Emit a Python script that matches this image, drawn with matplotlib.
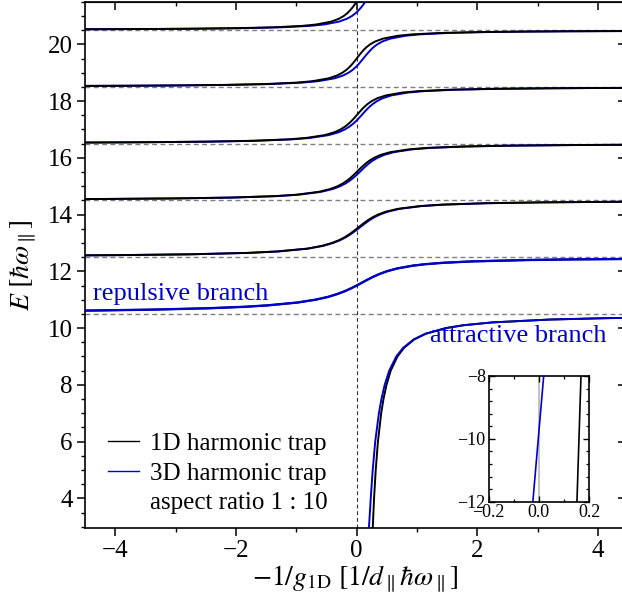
import matplotlib
matplotlib.use('Agg')
import matplotlib.pyplot as plt
from matplotlib.ticker import MultipleLocator
from matplotlib.lines import Line2D

plt.rcParams['font.family'] = ['Liberation Serif', 'DejaVu Serif']
plt.rcParams['mathtext.fontset'] = 'stix'

# ---------------- data ----------------
LEVELS = [10.5, 12.5, 14.5, 16.5, 18.5, 20.5]

# attractive branch
ATT_E = [-16, -12, -8, -3, 0, 2, 3, 4, 5, 6, 7, 7.5, 8, 8.5, 9.0, 9.3, 9.6, 9.8,
         10.0, 10.1, 10.2, 10.3, 10.35, 10.4]
ATT_X_1D = [0.139, 0.151, 0.167, 0.196, 0.2235, 0.250, 0.267, 0.288, 0.3155, 0.352,
            0.406, 0.444, 0.494, 0.564, 0.676, 0.783, 0.954, 1.144, 1.479, 1.768,
            2.246, 3.19, 4.14, 6.02]
ATT_X_3D = [-0.051, -0.024, 0.019, 0.086, 0.1385, 0.18, 0.204, 0.233, 0.2655, 0.307,
            0.368, 0.410, 0.464, 0.539, 0.656, 0.768, 0.944, 1.139, 1.479, 1.768,
            2.246, 3.19, 4.14, 6.02]

# repulsive branch
REP_E = [10.60, 10.62, 10.65, 10.70, 10.75, 10.80, 10.90, 11.00, 11.10, 11.20, 11.30,
         11.40, 11.50, 11.60, 11.70, 11.80, 11.90, 12.00, 12.10, 12.20, 12.25, 12.30,
         12.35, 12.40, 12.42, 12.44]
REP_X_1D = [-5.28, -4.34, -3.38, -2.43, -1.85, -1.47, -0.98, -0.68, -0.47, -0.32, -0.196,
            -0.093, 0.0, 0.087, 0.173, 0.265, 0.368, 0.494, 0.664, 0.926, 1.127, 1.421,
            1.904, 2.856, 3.566, 4.75]
REP_X_3D = [-5.29, -4.35, -3.39, -2.44, -1.86, -1.48, -0.985, -0.684, -0.473, -0.322,
            -0.197, -0.094, 0.0, 0.088, 0.175, 0.268, 0.373, 0.500, 0.671, 0.934, 1.136,
            1.431, 1.914, 2.866, 3.577, 4.76]

# excited branches
B1_E = [12.55, 12.57, 12.60, 12.65, 12.70, 12.80, 12.90, 13.00, 13.10, 13.20, 13.30,
        13.40, 13.50, 13.60, 13.70, 13.80, 13.90, 14.00, 14.10, 14.20, 14.30, 14.35,
        14.40, 14.43, 14.45, 14.46]
B1_X_1D = [-5.58, -3.97, -2.75, -1.80, -1.32, -0.82, -0.57, -0.41, -0.29, -0.20, -0.126,
           -0.061, 0.0, 0.059, 0.119, 0.184, 0.259, 0.352, 0.479, 0.675, 1.046, 1.408,
           2.122, 3.04, 4.25, 5.31]
B1_X_3D = [-5.57, -3.96, -2.74, -1.79, -1.30, -0.80, -0.55, -0.39, -0.27, -0.18, -0.104,
           -0.038, 0.025, 0.085, 0.146, 0.212, 0.288, 0.383, 0.511, 0.709, 1.08, 1.44,
           2.16, 3.08, 4.29, 5.35]

B2_E = [14.54, 14.55, 14.57, 14.60, 14.65, 14.70, 14.80, 14.90, 15.00, 15.10, 15.20,
        15.30, 15.40, 15.50, 15.60, 15.70, 15.80, 15.90, 16.00, 16.10, 16.20, 16.30,
        16.35, 16.40, 16.43, 16.45, 16.46, 16.465]
B2_X_1D = [-5.26, -4.20, -3.00, -2.08, -1.36, -1.00, -0.632, -0.439, -0.316, -0.227,
           -0.158, -0.100, -0.048, 0.0, 0.047, 0.096, 0.149, 0.211, 0.288, 0.393, 0.557,
           0.866, 1.167, 1.763, 2.53, 3.54, 4.41, 5.05]
B2_X_3D = [-5.22, -4.16, -2.96, -2.04, -1.32, -0.962, -0.593, -0.397, -0.272, -0.182,
           -0.111, -0.052, 0.001, 0.05, 0.098, 0.148, 0.202, 0.265, 0.345, 0.451, 0.617,
           0.928, 1.23, 1.827, 2.59, 3.6, 4.47, 5.11]

B3_E = [16.535, 16.54, 16.55, 16.57, 16.60, 16.65, 16.70, 16.80, 16.90, 17.00, 17.10,
        17.20, 17.30, 17.40, 17.50, 17.60, 17.70, 17.80, 17.90, 18.00, 18.10, 18.20,
        18.30, 18.35, 18.40, 18.43, 18.45, 18.46, 18.47]
B3_X_1D = [-5.02, -4.39, -3.51, -2.50, -1.736, -1.141, -0.840, -0.532, -0.370, -0.267,
           -0.193, -0.134, -0.085, -0.041, 0.0, 0.041, 0.083, 0.129, 0.183, 0.250, 0.342,
           0.485, 0.755, 1.019, 1.540, 2.211, 3.091, 3.863, 5.15]
B3_X_3D = [-4.955, -4.325, -3.445, -2.435, -1.67, -1.075, -0.774, -0.465, -0.300, -0.195,
           -0.120, -0.059, -0.008, 0.037, 0.080, 0.122, 0.166, 0.213, 0.269, 0.337, 0.431,
           0.576, 0.848, 1.113, 1.635, 2.306, 3.186, 3.958, 5.245]

B4_E = [18.53, 18.54, 18.55, 18.57, 18.60, 18.65, 18.70, 18.80, 18.90, 19.00, 19.10,
        19.20, 19.30, 19.40, 19.50, 19.60, 19.70, 19.80, 19.90, 20.00, 20.10, 20.20,
        20.30, 20.35, 20.40, 20.43, 20.45, 20.46, 20.47]
B4_X_1D = [-5.13, -3.84, -3.07, -2.19, -1.521, -1.000, -0.737, -0.468, -0.326, -0.236,
           -0.170, -0.119, -0.075, -0.037, 0.0, 0.036, 0.074, 0.115, 0.163, 0.224, 0.306,
           0.434, 0.678, 0.915, 1.384, 1.988, 2.78, 3.474, 4.63]
B4_X_3D = [-5.035, -3.745, -2.975, -2.095, -1.425, -0.904, -0.640, -0.370, -0.226, -0.134,
           -0.066, -0.013, 0.032, 0.071, 0.110, 0.148, 0.188, 0.231, 0.280, 0.342, 0.426,
           0.556, 0.802, 1.04, 1.51, 2.114, 2.906, 3.6, 4.756]

B5_E = [20.525, 20.53, 20.54, 20.55, 20.57, 20.60, 20.65, 20.70, 20.80, 20.90, 21.00,
        21.10, 21.20, 21.30, 21.40, 21.50, 21.60, 21.70, 21.80]
B5_X_1D = [-5.54, -4.61, -3.455, -2.762, -1.971, -1.371, -0.902, -0.665, -0.422, -0.295,
           -0.213, -0.154, -0.108, -0.068, -0.033, 0.0, 0.033, 0.067, 0.105]
B5_X_3D = [-5.41, -4.483, -3.328, -2.635, -1.843, -1.243, -0.774, -0.536, -0.292, -0.163,
           -0.077, -0.016, 0.032, 0.074, 0.110, 0.145, 0.180, 0.215, 0.255]

LEGEND_LABELS = ['1D harmonic trap', '3D harmonic trap', 'aspect ratio 1 : 10']

# ---------------- figure ----------------
BLACK = 'black'
BLUE = '#0000cc'
LW = 1.4

fig = plt.figure(figsize=(6.22, 6.03), dpi=100)
ax = fig.add_axes([85 / 622, 75.3 / 603, (626 - 85) / 622, 526 / 603])
ax.set_xlim(-4.5, 4.461)
ax.set_ylim(2.965, 21.502)

for lv in LEVELS:
    ax.axhline(lv, color='#7f7f7f', lw=1.0, ls=(0, (3.5, 2.5)), zorder=1)
ax.axvline(0, color='#333333', lw=0.8, ls=(0, (3.5, 2.5)), zorder=1)

# lowest branches: blue on top
ax.plot(ATT_X_1D, ATT_E, color=BLACK, lw=LW, zorder=3)
ax.plot(ATT_X_3D, ATT_E, color=BLUE, lw=LW, zorder=4)
ax.plot(REP_X_1D, REP_E, color=BLACK, lw=LW, zorder=3)
ax.plot(REP_X_3D, REP_E, color=BLUE, lw=LW + 0.3, zorder=4)

# excited branches: black on top
for xs1, xs3, es in [(B1_X_1D, B1_X_3D, B1_E), (B2_X_1D, B2_X_3D, B2_E),
                     (B3_X_1D, B3_X_3D, B3_E), (B4_X_1D, B4_X_3D, B4_E),
                     (B5_X_1D, B5_X_3D, B5_E)]:
    ax.plot(xs3, es, color=BLUE, lw=LW, zorder=3)
    ax.plot(xs1, es, color=BLACK, lw=LW, zorder=4)

ax.text(-4.37, 11.0, 'repulsive branch', color=BLUE, fontsize=19,
        ha='left', va='baseline', zorder=5)
ax.text(1.21, 9.52, 'attractive branch', color=BLUE, fontsize=19,
        ha='left', va='baseline', zorder=5)

# ticks
ax.xaxis.set_major_locator(MultipleLocator(2))
ax.xaxis.set_minor_locator(MultipleLocator(1))
ax.yaxis.set_major_locator(MultipleLocator(2))
ax.yaxis.set_minor_locator(MultipleLocator(0.5))
ax.tick_params(which='major', direction='out', length=5.8, width=1.1,
               labelsize=18, pad=3)
ax.tick_params(which='minor', direction='out', length=3.2, width=1.0)
for sp in ax.spines.values():
    sp.set_linewidth(1.2)

secx = ax.secondary_xaxis('top')
secx.xaxis.set_major_locator(MultipleLocator(2))
secx.xaxis.set_minor_locator(MultipleLocator(1))
secx.tick_params(which='major', direction='in', length=5.8, width=1.1, labeltop=False)
secx.tick_params(which='minor', direction='in', length=3.2, width=1.0)
secy = ax.secondary_yaxis('right')
secy.yaxis.set_major_locator(MultipleLocator(2))
secy.yaxis.set_minor_locator(MultipleLocator(0.5))
secy.tick_params(which='major', direction='in', length=5.8, width=1.1, labelright=False)
secy.tick_params(which='minor', direction='in', length=3.2, width=1.0)

ax.set_xlabel(r'$-1/g_{\rm 1D}\ [1/d_\parallel\hbar\omega_\parallel]$', fontsize=20)
ax.set_ylabel(r'$E\ [\hbar\omega_\parallel]$', fontsize=20)
ax.xaxis.set_label_coords(0.5, -0.068)
ax.yaxis.set_label_coords(-0.085, 0.5)

handles = [Line2D([], [], color=BLACK, lw=1.0),
           Line2D([], [], color=BLUE, lw=1.0),
           Line2D([], [], color='none', lw=1.0)]
ax.legend(handles, LEGEND_LABELS, loc='lower left', bbox_to_anchor=(0.042, 0.026),
          frameon=False, fontsize=18, handlelength=1.25, handletextpad=0.45,
          labelspacing=0.28, borderpad=0, borderaxespad=0)

# inset
ins = fig.add_axes([488.5 / 622, (603 - 501.7) / 603, 100.8 / 622, 125.7 / 603])
ins.set_xlim(-0.2, 0.2)
ins.set_ylim(-12, -8)
ins.axvline(0, color='#b8b8b8', lw=1.2, zorder=1)
ins.plot(ATT_X_1D, ATT_E, color=BLACK, lw=1.2, zorder=3)
ins.plot(ATT_X_3D, ATT_E, color=BLUE, lw=1.2, zorder=4)
ins.xaxis.set_major_locator(MultipleLocator(0.2))
ins.xaxis.set_minor_locator(MultipleLocator(0.1))
ins.yaxis.set_major_locator(MultipleLocator(2))
ins.yaxis.set_minor_locator(MultipleLocator(0.4))
ins.tick_params(which='both', direction='in', top=True, right=True,
                labelsize=13, pad=2)
ins.tick_params(which='major', length=4, width=1.0)
ins.tick_params(which='minor', length=2.5, width=0.9)
ins.set_xticks([-0.2, 0.0, 0.2])
ins.set_xticklabels(['\u22120.2', '0.0', '0.2'])
for sp in ins.spines.values():
    sp.set_linewidth(1.2)

fig.savefig('out.png', dpi=100)
